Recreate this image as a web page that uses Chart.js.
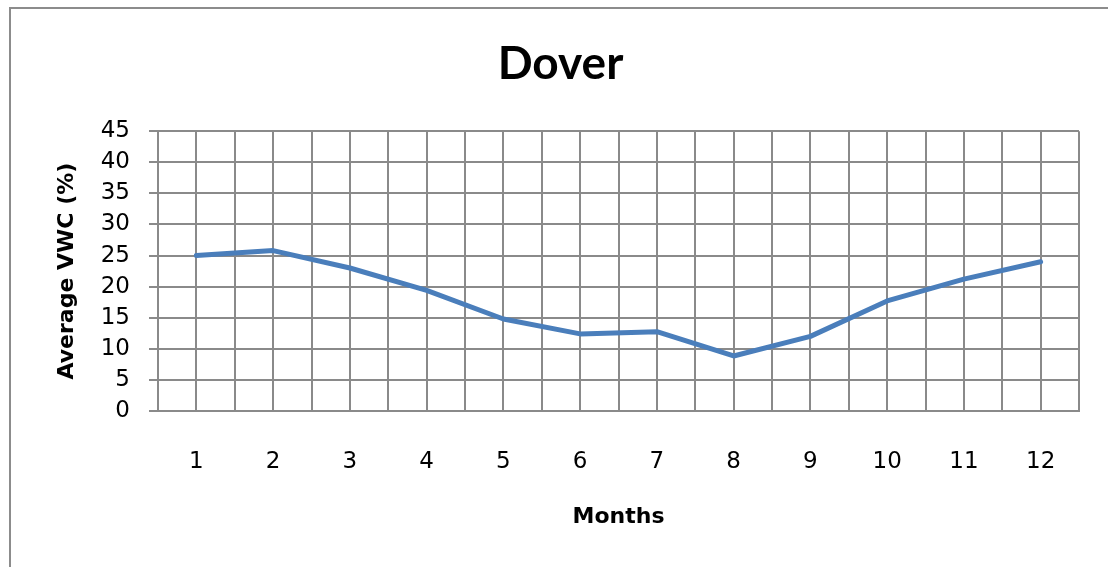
<!DOCTYPE html>
<html>
<head>
<meta charset="utf-8">
<script src="https://cdn.jsdelivr.net/npm/chart.js@4/dist/chart.umd.min.js"></script>
<style>
    html, body { margin: 0; padding: 0; background: #fff; }
    #wrap { position: relative; width: 1108px; height: 567px; }
</style>
</head>
<body>
<div id="wrap"><canvas id="vwcChart"></canvas></div>
<script>
// Dover - average volumetric water content by month
const months = [1, 2, 3, 4, 5, 6, 7, 8, 9, 10, 11, 12];
const vwcValues = [25.0, 25.8, 23.0, 19.4, 14.8, 12.4, 12.75, 8.85, 12.0, 17.7, 21.2, 24.0];
const yTicks = [0, 5, 10, 15, 20, 25, 30, 35, 40, 45];

const gridGray = '#8a8a8a';
const titleFont = 'Lato, "Open Sans", sans-serif';
const axisFont = '"DejaVu Sans", sans-serif';

// outer frame of the chart object, like the spreadsheet border
const framePlugin = {
    id: 'frame',
    beforeDraw(chart) {
        const ctx = chart.ctx;
        ctx.save();
        ctx.strokeStyle = '#8c8c8c';
        ctx.lineWidth = 2;
        ctx.strokeRect(10, 8, 1200, 700);
        ctx.restore();
    }
};

const ctx = document.getElementById('vwcChart');
new Chart(ctx, {
    type: 'line',
    data: {
        datasets: [{
            label: 'Dover',
            data: months.map((m, i) => ({ x: m, y: vwcValues[i] })),
            borderColor: '#4a7ebb',
            borderWidth: 5,
            borderCapStyle: 'round',
            borderJoinStyle: 'round',
            pointRadius: 0,
            tension: 0,
            fill: false
        }]
    },
    options: {
        responsive: true,
        maintainAspectRatio: false,
        animation: false,
        layout: { padding: { left: 42, right: 29, top: 0, bottom: 0 } },
        plugins: {
            legend: { display: false },
            tooltip: { enabled: false },
            title: {
                display: true,
                text: 'Dover',
                color: '#000',
                font: { family: titleFont, size: 46, weight: 'bold' },
                padding: { top: 37, bottom: 39 }
            }
        },
        scales: {
            x: {
                type: 'linear',
                min: 0.5,
                max: 12.5,
                afterBuildTicks(scale) {
                    // major ticks on months, minor gridlines between them
                    const t = [];
                    for (let v = 0.5; v <= 12.5; v += 0.5) t.push({ value: v });
                    scale.ticks = t;
                },
                afterFit(scale) {
                    scale.height = 156;
                    scale.paddingLeft = 0;
                    scale.paddingRight = 0;
                },
                grid: { color: gridGray, lineWidth: 2, drawTicks: false },
                border: { color: gridGray, width: 2 },
                ticks: {
                    autoSkip: false,
                    maxRotation: 0,
                    padding: 37,
                    color: '#000',
                    font: { family: axisFont, size: 23 },
                    callback: v => (Number.isInteger(v) && months.includes(v)) ? String(v) : ''
                },
                title: {
                    display: true,
                    text: 'Months',
                    color: '#000',
                    font: { family: axisFont, size: 22, weight: 'bold' },
                    padding: { top: 0, bottom: 37 }
                }
            },
            y: {
                min: 0,
                max: 45,
                afterBuildTicks(scale) {
                    scale.ticks = yTicks.map(v => ({ value: v }));
                },
                afterFit(scale) { scale.width = 116; },
                grid: { color: gridGray, lineWidth: 2, tickLength: 9 },
                border: { color: gridGray, width: 2 },
                ticks: {
                    padding: 19,
                    color: '#000',
                    font: { family: axisFont, size: 23 }
                },
                title: {
                    display: true,
                    text: 'Average VWC (%)',
                    color: '#000',
                    font: { family: axisFont, size: 22, weight: 'bold' },
                    padding: { top: 12, bottom: 0 }
                }
            }
        }
    },
    plugins: [framePlugin]
});
</script>
</body>
</html>
